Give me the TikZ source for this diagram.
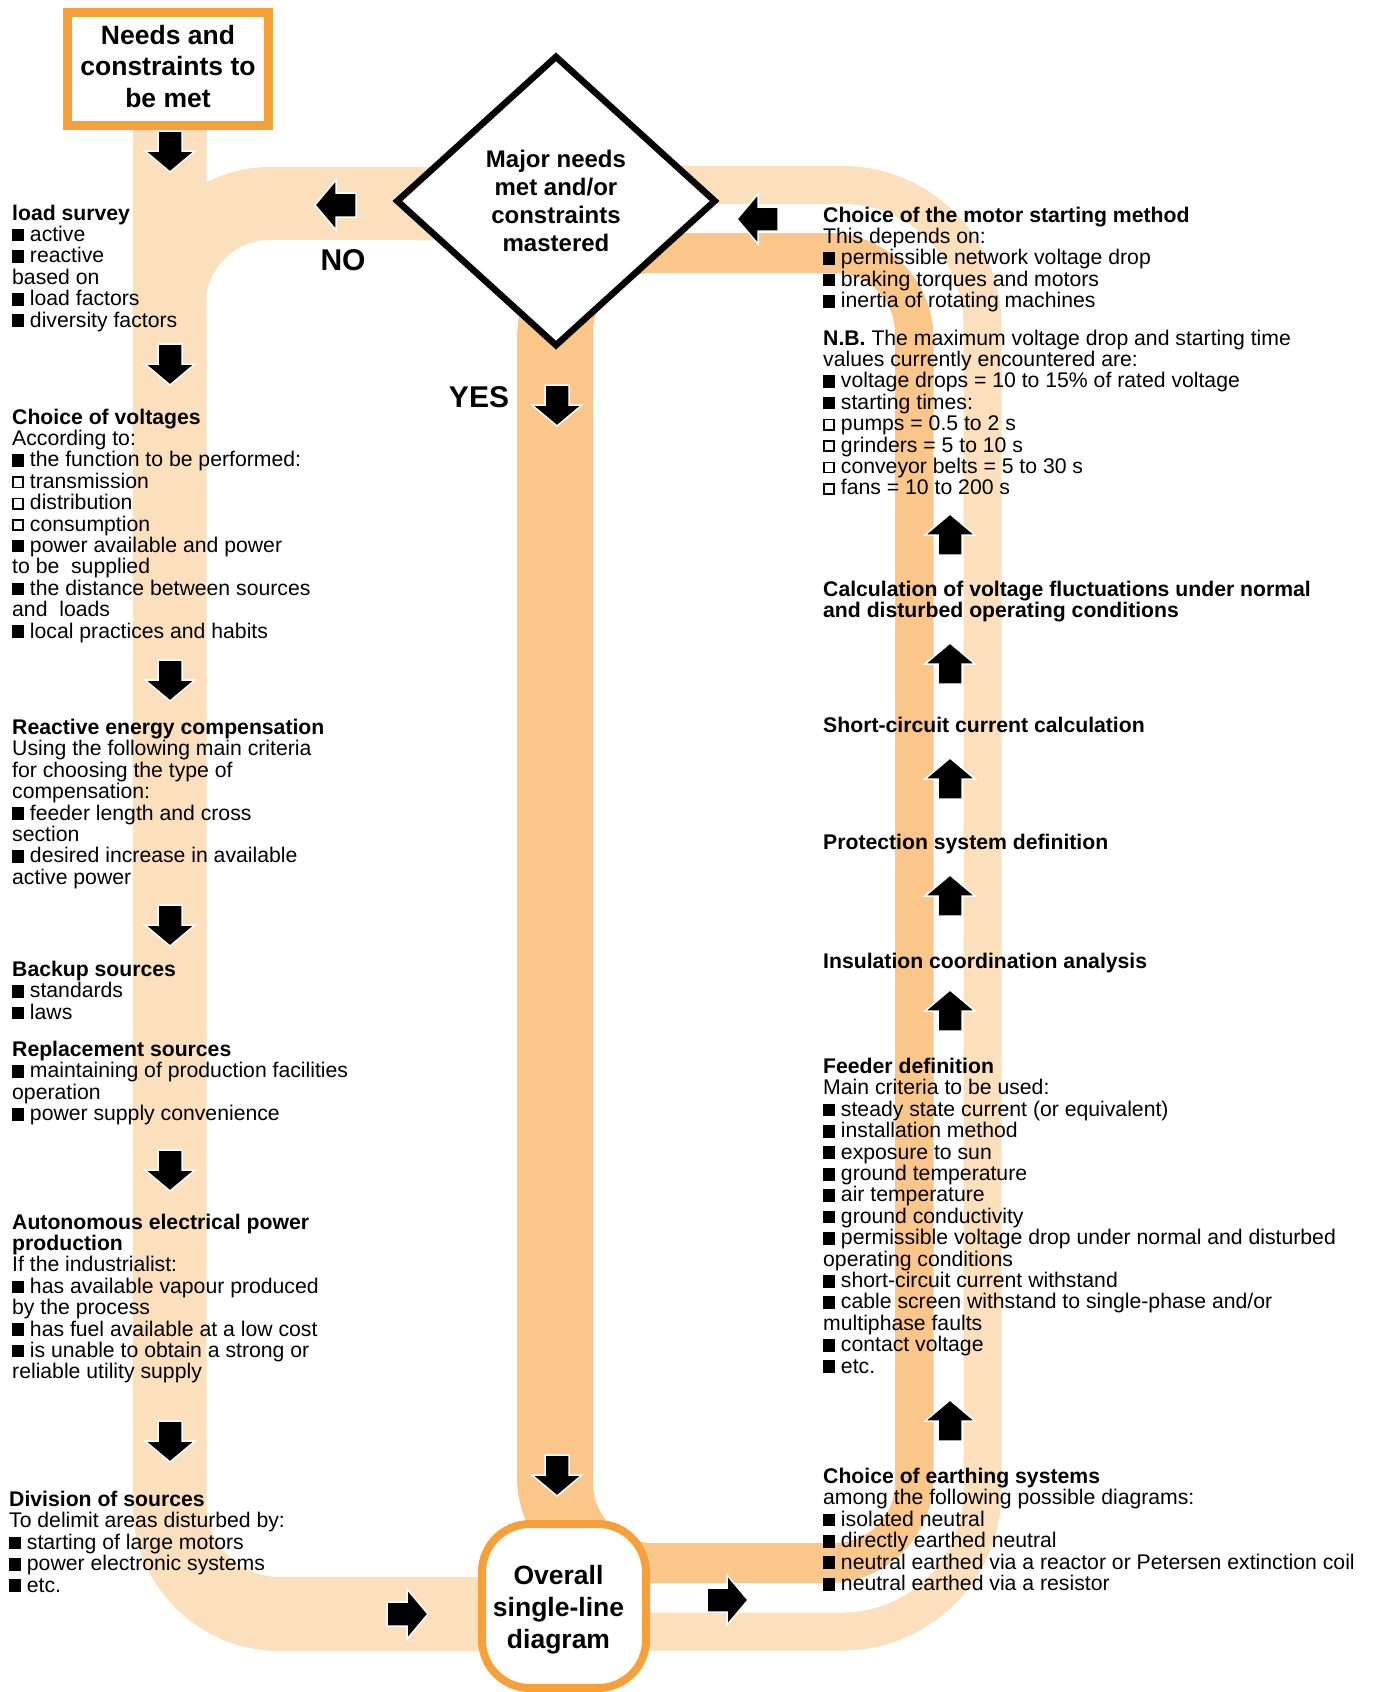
\documentclass[tikz,border=0pt]{standalone}
\usepackage{fontspec}
\setmainfont{Liberation Sans}
\usepackage{tikz}
\usetikzlibrary{shapes.geometric}
\definecolor{bandlight}{RGB}{252,223,188}
\definecolor{banddark}{RGB}{250,198,138}
\definecolor{boxorange}{RGB}{247,160,58}
\newcommand{\bsq}{\rule{0.56em}{0.6em}}
\newcommand{\wsq}{\raisebox{0.08em}{\fboxsep=0pt\fboxrule=0.08em\fbox{\rule{0pt}{0.4em}\rule{0.4em}{0pt}}}}
\tikzset{
	txt/.style={anchor=north west, align=left, inner sep=0pt, font=\fontsize{21.2}{21.4}\selectfont, execute at begin node=\strut},
	bigtxt/.style={align=center, inner sep=0pt, font=\bfseries\fontsize{26.5}{31.8}\selectfont},
	yesno/.style={inner sep=0pt, font=\bfseries\fontsize{30}{30}\selectfont},
	blockarrow/.pic={\filldraw[fill=black, draw=white, line width=1.5pt] (-20,-12) -- (0,-12) -- (0,-25) -- (21,0) -- (0,25) -- (0,12) -- (-20,12) -- cycle;}
}

\begin{document}
\begin{tikzpicture}[x=1pt, y=-1pt]
	\useasboundingbox (0,0) rectangle (1378,1692);
	
	% bands
	\draw[bandlight, line width=74pt, rounded corners=110pt] (169.5,130) -- (169.5,1614) -- (520,1614);
	\draw[bandlight, line width=73pt, rounded corners=100pt] (556,203.5) -- (169.5,203.5) -- (169.5,600);
	\draw[bandlight, line width=38pt, rounded corners=140pt] (556,185) -- (982.5,185) -- (982.5,1631.5) -- (556,1631.5);
	\fill[banddark, even odd rule] [rounded corners=105pt] (517,233) rectangle (933.5,1583) [rounded corners=60pt] (593,273) rectangle (895,1543);
	
	% arrows
	\pic[rotate=-90] at (170,151) {blockarrow};
	\pic[rotate=-90] at (170,364) {blockarrow};
	\pic[rotate=-90] at (170,680) {blockarrow};
	\pic[rotate=-90] at (170,925) {blockarrow};
	\pic[rotate=-90] at (170,1170) {blockarrow};
	\pic[rotate=-90] at (170,1441) {blockarrow};
	\pic[rotate=-90] at (557,405) {blockarrow};
	\pic[rotate=-90] at (557,1475) {blockarrow};
	\pic[rotate=90] at (950,535) {blockarrow};
	\pic[rotate=90] at (950,664) {blockarrow};
	\pic[rotate=90] at (950,779) {blockarrow};
	\pic[rotate=90] at (950,896) {blockarrow};
	\pic[rotate=90] at (950,1011) {blockarrow};
	\pic[rotate=90] at (950,1421) {blockarrow};
	\pic[rotate=180] at (336,205) {blockarrow};
	\pic[rotate=180] at (758,219) {blockarrow};
	\pic at (407,1614) {blockarrow};
	\pic at (727,1600) {blockarrow};
	
	% left column
	\node (survey) at (12,204.5) [txt] {\textbf{load survey}\\\bsq{} active\\\bsq{} reactive\\based on\\\bsq{} load factors\\\bsq{} diversity factors};
	\node (voltages) at (12,408.5) [txt] {\textbf{Choice of voltages}\\According to:\\\bsq{} the function to be performed:\\\wsq{} transmission\\\wsq{} distribution\\\wsq{} consumption\\\bsq{} power available and power\\to be~ supplied\\\bsq{} the distance between sources\\and~ loads\\\bsq{} local practices and habits};
	\node (reactive) at (12,719) [txt] {\textbf{Reactive energy compensation}\\Using the following main criteria\\for choosing the type of\\compensation:\\\bsq{} feeder length and cross\\section\\\bsq{} desired increase in available\\active power};
	\node (backup) at (12,961) [txt] {\textbf{Backup sources}\\\bsq{} standards\\\bsq{} laws};
	\node (replacement) at (12,1041) [txt] {\textbf{Replacement sources}\\\bsq{} maintaining of production facilities\\operation\\\bsq{} power supply convenience};
	\node (autonomous) at (12,1213.5) [txt] {\textbf{Autonomous electrical power}\\\textbf{production}\\If the industrialist:\\\bsq{} has available vapour produced\\by the process\\\bsq{} has fuel available at a low cost\\\bsq{} is unable to obtain a strong or\\reliable utility supply};
	\node (division) at (9,1491) [txt] {\textbf{Division of sources}\\To delimit areas disturbed by:\\\bsq{} starting of large motors\\\bsq{} power electronic systems\\\bsq{} etc.};
	
	% right column
	\node (motor) at (823,206.5) [txt] {\textbf{Choice of the motor starting method}\\This depends on:\\\bsq{} permissible network voltage drop\\\bsq{} braking torques and motors\\\bsq{} inertia of rotating machines};
	\node (nb) at (823,329.5) [txt] {\textbf{N.B.} The maximum voltage drop and starting time\\values currently encountered are:\\\bsq{} voltage drops = 10 to 15\% of rated voltage\\\bsq{} starting times:\\\wsq{} pumps = 0.5 to 2 s\\\wsq{} grinders = 5 to 10 s\\\wsq{} conveyor belts = 5 to 30 s\\\wsq{} fans = 10 to 200 s};
	\node (fluct) at (823,581) [txt] {\textbf{Calculation of voltage fluctuations under normal}\\\textbf{and disturbed operating conditions}};
	\node (shortcirc) at (823,717) [txt] {\textbf{Short-circuit current calculation}};
	\node (protection) at (823,833.5) [txt] {\textbf{Protection system definition}};
	\node (insulation) at (823,952.5) [txt] {\textbf{Insulation coordination analysis}};
	\node (feeder) at (823,1058) [txt] {\textbf{Feeder definition}\\Main criteria to be used:\\\bsq{} steady state current (or equivalent)\\\bsq{} installation method\\\bsq{} exposure to sun\\\bsq{} ground temperature\\\bsq{} air temperature\\\bsq{} ground conductivity\\\bsq{} permissible voltage drop under normal and disturbed\\operating conditions\\\bsq{} short-circuit current withstand\\\bsq{} cable screen withstand to single-phase and/or\\multiphase faults\\\bsq{} contact voltage\\\bsq{} etc.};
	\node (earthing) at (823,1468) [txt] {\textbf{Choice of earthing systems}\\among the following possible diagrams:\\\bsq{} isolated neutral\\\bsq{} directly earthed neutral\\\bsq{} neutral earthed via a reactor or Petersen extinction coil\\\bsq{} neutral earthed via a resistor};
	
	% boxes
	\draw[boxorange, line width=9pt, fill=white] (67.5,12.5) rectangle (268.5,125.5);
	\node (needs) at (168,66.5) [bigtxt] {Needs and\\constraints to\\be met};
	\node (decision) at (556,201) [draw, shape=diamond, line width=6.5pt, fill=white, minimum width=320pt, minimum height=291pt, inner sep=0pt, align=center, font=\bfseries\fontsize{24}{28}\selectfont] {Major needs\\met and/or\\constraints\\mastered};
	\draw[boxorange, line width=8pt, fill=white, rounded corners=48pt] (482,1524) rectangle (646,1688);
	\node (overall) at (558.5,1609.5) [bigtxt] {Overall\\single-line\\diagram};
	\node (no) at (343,260) [yesno] {NO};
	\node (yes) at (479,397) [yesno] {YES};
\end{tikzpicture}
\end{document}
